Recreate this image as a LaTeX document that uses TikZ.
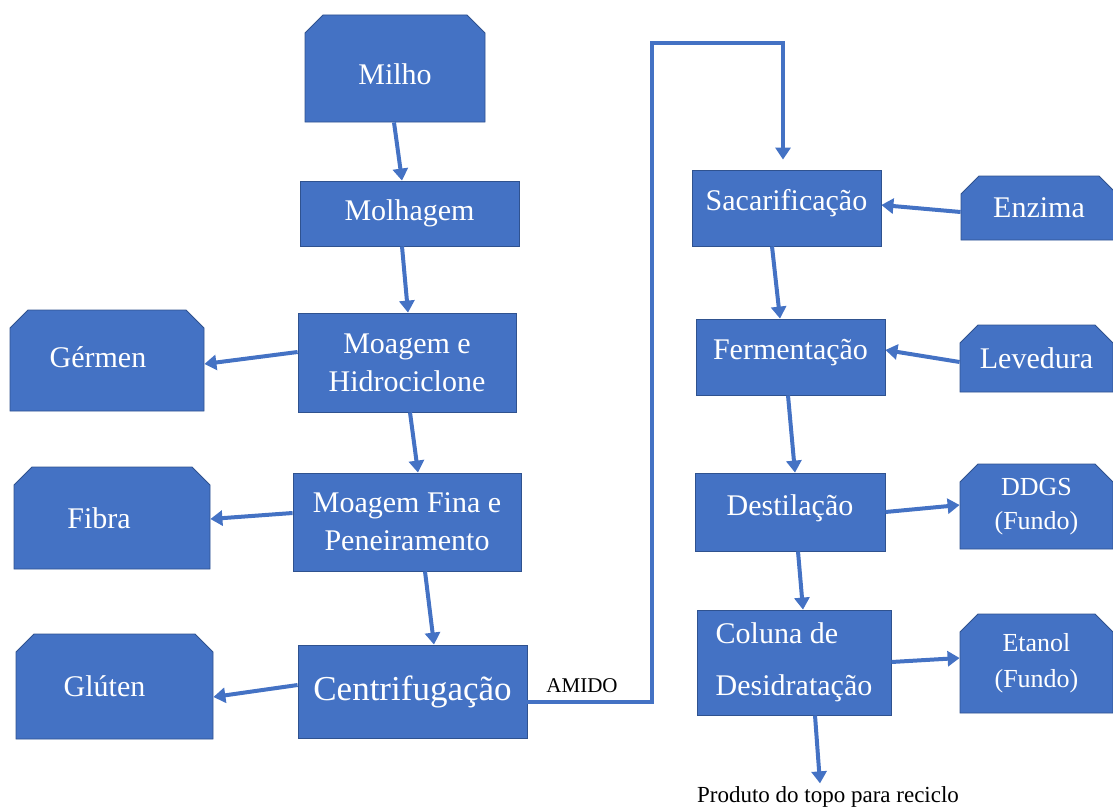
\documentclass[tikz,border=0pt]{standalone}
\usepackage{fontspec}
\setmainfont{Liberation Serif}
\usetikzlibrary{shapes.misc, arrows.meta, positioning}
\definecolor{wordblue}{HTML}{4472C4}
\definecolor{wordedge}{HTML}{2F528F}

\begin{document}
\begin{tikzpicture}[
    x=1pt, y=-1pt,
    box/.style={rectangle, draw=wordedge, line width=0.8pt, fill=wordblue, text=white, align=center, font=\fontsize{30}{38}\selectfont, inner sep=2pt},
    snip/.style={box, chamfered rectangle, chamfered rectangle corners={north west, north east}, chamfered rectangle xsep=9pt, chamfered rectangle ysep=9pt},
    arrow/.style={-{Triangle[length=12pt, width=15pt]}, line width=4pt, draw=wordblue},
    note/.style={text=black, inner sep=0pt},
]
\useasboundingbox (0,0) rectangle (1113,808);
\clip (0,0) rectangle (1113,808);

% left column
\node[snip, minimum width=180pt, minimum height=107pt] (milho) at (395,68.5) {\raisebox{-6pt}[\height][\depth]{Milho}};
\node[box, minimum width=219pt, minimum height=65pt] (molhagem) at (409.5,213.5) {Molhagem};
\node[box, minimum width=218pt, minimum height=99pt] (moagem) at (407,362.5) {Moagem e\\Hidrociclone};
\node[box, minimum width=228pt, minimum height=98pt] (fina) at (407,522) {Moagem Fina e\\Peneiramento};
\node[box, minimum width=229pt, minimum height=93pt, font=\fontsize{35}{42}\selectfont] (centrif) at (412.5,691.5) {Centrifugação};

\node[snip, minimum width=194pt, minimum height=101pt] (germen) at (107,360.5) {\hspace*{-18pt}\raisebox{3pt}[\height][\depth]{Gérmen}};
\node[snip, minimum width=196pt, minimum height=102pt] (fibra) at (112,518) {\hspace*{-26pt}Fibra};
\node[snip, minimum width=197pt, minimum height=105pt] (gluten) at (114.5,686.5) {\hspace*{-20pt}Glúten};

% right column
\node[box, minimum width=189pt, minimum height=76pt] (sacar) at (786.5,208) {\raisebox{5pt}[\height][\depth]{Sacarificação}};
\node[box, minimum width=189pt, minimum height=76pt] (ferment) at (790.5,357) {\raisebox{4pt}[\height][\depth]{Fermentação}};
\node[box, minimum width=190pt, minimum height=78pt] (destil) at (790,512) {\raisebox{4pt}[\height][\depth]{Destilação}};
\node[box, minimum width=194pt, minimum height=105pt, align=left] (coluna) at (794,662.5) {Coluna de\\[14pt]Desidratação};

\node[snip, minimum width=156pt, minimum height=64pt] (enzima) at (1039,208) {Enzima};
\node[snip, minimum width=153pt, minimum height=67pt] (levedura) at (1036.5,358.5) {Levedura};
\node[snip, minimum width=153pt, minimum height=85pt, font=\fontsize{26}{34}\selectfont] (ddgs) at (1036.5,506.5) {DDGS\\(Fundo)};
\node[snip, minimum width=153pt, minimum height=99pt, font=\fontsize{26}{36}\selectfont] (etanol) at (1036.5,663.5) {Etanol\\(Fundo)};

\node[note, font=\fontsize{21}{24}\selectfont] (amido) at (582,686) {AMIDO};
\node[note, font=\fontsize{23}{26}\selectfont] (produto) at (828,797) {Produto do topo para reciclo};
\coordinate (topo) at (652,43);

% main line
\draw[arrow] ([xshift=-1pt]milho.south) -- ([xshift=-7.5pt]molhagem.north);
\draw[arrow] ([xshift=-7.5pt]molhagem.south) -- ([xshift=1pt]moagem.north);
\draw[arrow] ([xshift=3pt]moagem.south) -- ([xshift=11pt]fina.north);
\draw[arrow] ([xshift=18pt]fina.south) -- ([xshift=21.5pt]centrif.north);

% by-products
\draw[arrow] ([yshift=10.5pt]moagem.west) -- ([yshift=-3.5pt]germen.east);
\draw[arrow] ([yshift=9pt]fina.west) -- ([yshift=-1pt]fibra.east);
\draw[arrow] ([yshift=6.5pt]centrif.west) -- ([yshift=-10.5pt]gluten.east);

% starch to saccharification
\draw[arrow] ([yshift=-10.5pt]centrif.east) -| (topo) -| ([xshift=-3.5pt, yshift=10pt]sacar.north);

% right column
\draw[arrow] ([yshift=-4pt]enzima.west) -- ([yshift=3pt]sacar.east);
\draw[arrow] ([xshift=-14.5pt]sacar.south) -- ([xshift=-10.5pt]ferment.north);
\draw[arrow] ([yshift=-3.5pt]levedura.west) -- ([yshift=7pt]ferment.east);
\draw[arrow] ([xshift=-2.5pt]ferment.south) -- ([xshift=5pt]destil.north);
\draw[arrow] (destil.east) -- ([yshift=1.5pt]ddgs.west);
\draw[arrow] ([xshift=8pt]destil.south) -- ([xshift=9pt]coluna.north);
\draw[arrow] ([yshift=0.5pt]coluna.east) -- ([yshift=5.5pt]etanol.west);
\draw[arrow] ([xshift=21pt]coluna.south) -- ([xshift=-8pt, yshift=3pt]produto.north);
\end{tikzpicture}
\end{document}
